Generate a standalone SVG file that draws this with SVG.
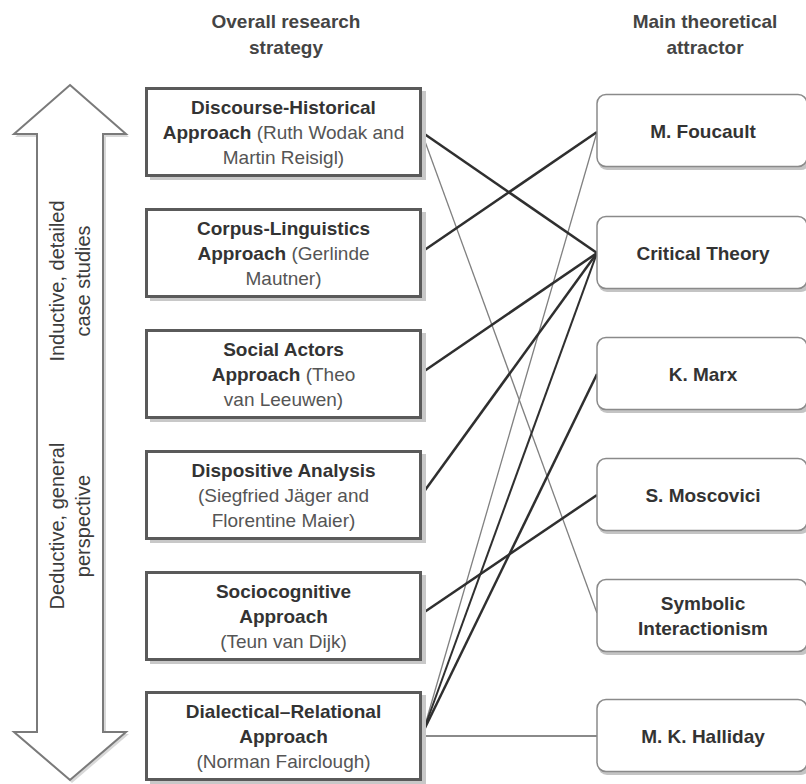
<svg xmlns="http://www.w3.org/2000/svg" width="806" height="784" viewBox="0 0 806 784">
<defs>
<style>
text{font-family:"Liberation Sans",Arial,sans-serif;font-size:19px;text-anchor:middle;fill:#3a3a3a}
.b{font-weight:bold;fill:#333}
.r{fill:#555}
.hd{font-weight:bold;fill:#444}
.lb{fill:#fff;stroke:#5a5a5a;stroke-width:3}
.ls{fill:#c8c8c8}
.rb{fill:#fff;stroke:#8a8a8a;stroke-width:1.5}
.rs{fill:#c4c4c4}
.thick{stroke:#2f2f2f;stroke-width:2.5;fill:none}
.thin{stroke:#808080;stroke-width:1.3;fill:none}
.mid{stroke:#8a8a8a;stroke-width:1.8;fill:none}
.ar{fill:#fff;stroke:#7a7a7a;stroke-width:2;stroke-linejoin:miter}
.at{font-size:20px;fill:#3c3c3c}
</style>
</defs>
<rect width="806" height="784" fill="#fff"/>

<g id="headers">
<text class="hd" x="286" y="28">Overall research</text>
<text class="hd" x="286" y="54">strategy</text>
<text class="hd" x="705" y="28">Main theoretical</text>
<text class="hd" x="705" y="54">attractor</text>
</g>

<g id="scale-arrow">
<polygon points="72,88 129,137 106,137 106,734 129,734 72,783 15,734 38,734 38,137 15,137" fill="#d8d8d8"/>
<polygon class="ar" points="70,85 126,134 103,134 103,732 126,732 70,780 14,732 37,732 37,134 14,134"/>
<text class="at" transform="translate(64,281) rotate(-90)">Inductive, detailed</text>
<text class="at" transform="translate(90,281) rotate(-90)">case studies</text>
<text class="at" transform="translate(64,526) rotate(-90)">Deductive, general</text>
<text class="at" transform="translate(90,526) rotate(-90)">perspective</text>
</g>

<g id="connectors">
<line class="thin" x1="423" y1="136" x2="597" y2="613"/>
<line class="thin" x1="423" y1="732" x2="597" y2="132"/>
<line class="mid" x1="423" y1="736" x2="597" y2="736"/>
<line class="thick" x1="423" y1="133" x2="597" y2="253"/>
<line class="thick" x1="423" y1="251" x2="597" y2="132"/>
<line class="thick" x1="423" y1="372" x2="597" y2="253"/>
<line class="thick" x1="423" y1="493" x2="597" y2="253"/>
<line class="thick" x1="423" y1="613" x2="597" y2="495"/>
<line class="thick" x1="423" y1="732" x2="597" y2="374"/>
<line class="thick" x1="423" y1="732" x2="597" y2="253" style="stroke-width:2"/>
</g>

<g id="dha">
<rect class="ls" x="150" y="91" width="276" height="89"/>
<rect class="lb" x="146.5" y="88.5" width="274" height="87"/>
<text class="b" x="283.5" y="113.5">Discourse-Historical</text>
<text x="283.5" y="138.5"><tspan class="b">Approach</tspan><tspan class="r"> (Ruth Wodak and</tspan></text>
<text class="r" x="283.5" y="163.5">Martin Reisigl)</text>
</g>

<g id="cla">
<rect class="ls" x="150" y="212" width="276" height="89"/>
<rect class="lb" x="146.5" y="209.5" width="274" height="87"/>
<text class="b" x="283.5" y="234.5">Corpus-Linguistics</text>
<text x="283.5" y="259.5"><tspan class="b">Approach</tspan><tspan class="r"> (Gerlinde</tspan></text>
<text class="r" x="283.5" y="284.5">Mautner)</text>
</g>

<g id="saa">
<rect class="ls" x="150" y="333" width="276" height="89"/>
<rect class="lb" x="146.5" y="330.5" width="274" height="87"/>
<text class="b" x="283.5" y="355.5">Social Actors</text>
<text x="283.5" y="380.5"><tspan class="b">Approach</tspan><tspan class="r"> (Theo</tspan></text>
<text class="r" x="283.5" y="405.5">van Leeuwen)</text>
</g>

<g id="da">
<rect class="ls" x="150" y="454" width="276" height="89"/>
<rect class="lb" x="146.5" y="451.5" width="274" height="87"/>
<text class="b" x="283.5" y="476.5">Dispositive Analysis</text>
<text class="r" x="283.5" y="501.5">(Siegfried Jäger and</text>
<text class="r" x="283.5" y="526.5">Florentine Maier)</text>
</g>

<g id="sca">
<rect class="ls" x="150" y="575" width="276" height="89"/>
<rect class="lb" x="146.5" y="572.5" width="274" height="87"/>
<text class="b" x="283.5" y="597.5">Sociocognitive</text>
<text class="b" x="283.5" y="622.5">Approach</text>
<text class="r" x="283.5" y="647.5">(Teun van Dijk)</text>
</g>

<g id="dra">
<rect class="ls" x="150" y="695" width="276" height="89"/>
<rect class="lb" x="146.5" y="692.5" width="274" height="87"/>
<text class="b" x="283.5" y="717.5">Dialectical–Relational</text>
<text class="b" x="283.5" y="742.5">Approach</text>
<text class="r" x="283.5" y="767.5">(Norman Fairclough)</text>
</g>

<g id="foucault">
<rect class="rs" x="598" y="97" width="212" height="73" rx="9"/>
<rect class="rb" x="597" y="94.5" width="210" height="72" rx="9"/>
<text class="b" x="703" y="137.5">M. Foucault</text>
</g>

<g id="critical">
<rect class="rs" x="598" y="219" width="212" height="73" rx="9"/>
<rect class="rb" x="597" y="216.5" width="210" height="72" rx="9"/>
<text class="b" x="703" y="259.5">Critical Theory</text>
</g>

<g id="marx">
<rect class="rs" x="598" y="340" width="212" height="73" rx="9"/>
<rect class="rb" x="597" y="337.5" width="210" height="72" rx="9"/>
<text class="b" x="703" y="380.5">K. Marx</text>
</g>

<g id="moscovici">
<rect class="rs" x="598" y="461" width="212" height="73" rx="9"/>
<rect class="rb" x="597" y="458.5" width="210" height="72" rx="9"/>
<text class="b" x="703" y="501.5">S. Moscovici</text>
</g>

<g id="symbolic">
<rect class="rs" x="598" y="582" width="212" height="73" rx="9"/>
<rect class="rb" x="597" y="579.5" width="210" height="72" rx="9"/>
<text class="b" x="703" y="609.5">Symbolic</text>
<text class="b" x="703" y="634.5">Interactionism</text>
</g>

<g id="halliday">
<rect class="rs" x="598" y="702" width="212" height="73" rx="9"/>
<rect class="rb" x="597" y="699.5" width="210" height="72" rx="9"/>
<text class="b" x="703" y="742.5">M. K. Halliday</text>
</g>
</svg>
